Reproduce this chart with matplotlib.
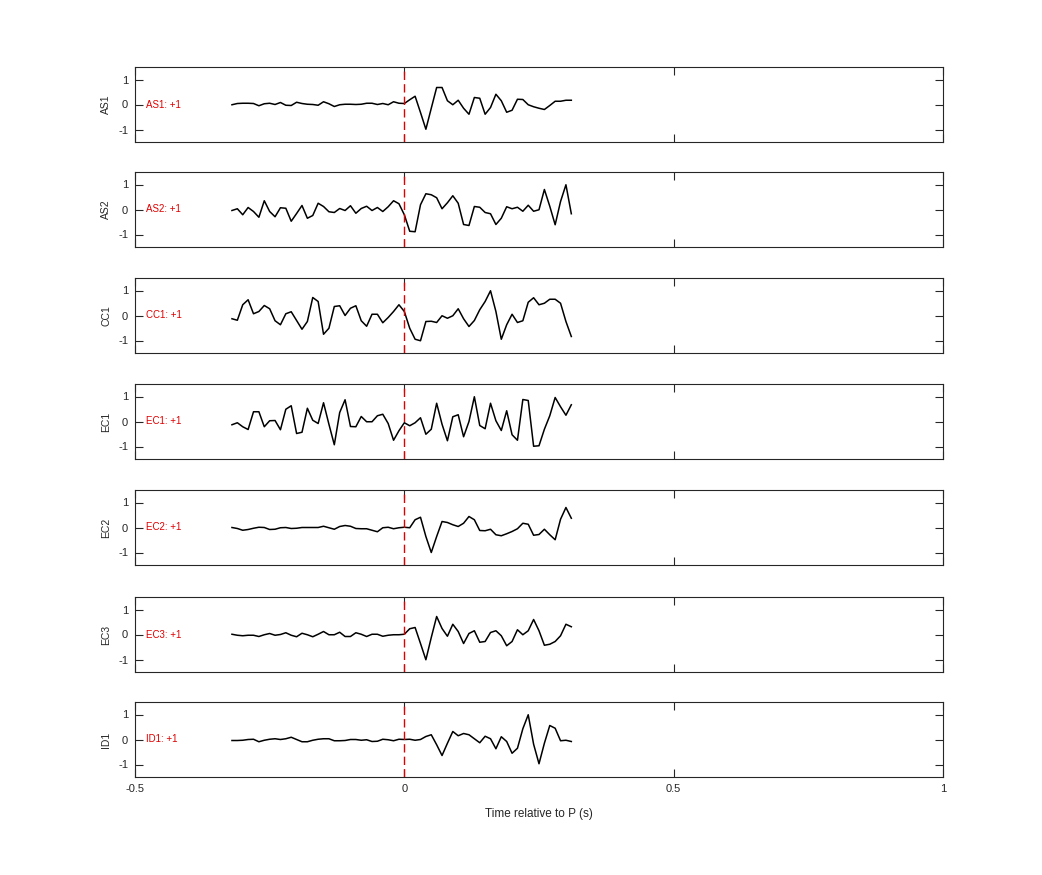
import matplotlib
matplotlib.use("Agg")
import matplotlib.pyplot as plt
import numpy as np

plt.rcParams['font.family'] = ['Liberation Sans', 'DejaVu Sans']
plt.rcParams['axes.unicode_minus'] = False

# time axis: 100 Hz samples around the P arrival
t = np.round(np.arange(-0.32, 0.315, 0.01), 2)

stations = ["AS1", "AS2", "CC1", "EC1", "EC2", "EC3", "ID1"]
polarity = ["+1", "+1", "+1", "+1", "+1", "+1", "+1"]

as1 = [-0.01, 0.04, 0.05, 0.05, 0.04, -0.05, 0.03, 0.05, 0, 0.08, -0.03, -0.04, 0.09, 0.04, 0.01, 0,
       -0.03, 0.11, 0.03, -0.08, -0.01, 0.01, 0.01, 0, 0.01, 0.05, 0.05, 0, 0.04, -0.01, 0.11, 0.05,
       0.04, 0.19, 0.33, -0.32, -0.99, -0.15, 0.68, 0.68, 0.15, -0.01, 0.17, -0.15, -0.39, 0.28, 0.25, -0.39,
       -0.12, 0.41, 0.15, -0.31, -0.23, 0.21, 0.2, -0.01, -0.09, -0.15, -0.2, -0.04, 0.13, 0.13, 0.17, 0.17]
as2 = [-0.04, 0.03, -0.21, 0.08, -0.08, -0.31, 0.35, -0.08, -0.29, 0.07, 0.05, -0.47, -0.16, 0.16, -0.35, -0.24,
       0.25, 0.12, -0.09, -0.12, 0.04, -0.04, 0.15, -0.15, 0.04, 0.13, -0.04, 0.08, -0.08, 0.11, 0.35, 0.23,
       -0.21, -0.87, -0.89, 0.19, 0.63, 0.59, 0.47, 0.03, 0.27, 0.55, 0.25, -0.6, -0.64, 0.12, 0.09, -0.12,
       -0.17, -0.6, -0.35, 0.11, 0.03, 0.09, -0.07, 0.17, -0.07, -0.01, 0.8, 0.13, -0.61, 0.32, 0.99, -0.17]
cc1 = [-0.13, -0.19, 0.43, 0.63, 0.07, 0.16, 0.4, 0.27, -0.21, -0.37, 0.07, 0.15, -0.2, -0.55, -0.24, 0.72,
       0.56, -0.75, -0.51, 0.36, 0.39, 0, 0.29, 0.39, -0.21, -0.43, 0.05, 0.05, -0.29, -0.08, 0.16, 0.43,
       0.16, -0.51, -0.95, -1.01, -0.24, -0.23, -0.28, -0.01, -0.11, -0.01, 0.27, -0.13, -0.44, -0.2, 0.23, 0.56,
       0.99, 0.16, -0.95, -0.37, 0.05, -0.28, -0.21, 0.53, 0.71, 0.43, 0.49, 0.65, 0.65, 0.49, -0.24, -0.84]
ec1 = [-0.13, -0.05, -0.21, -0.32, 0.39, 0.39, -0.21, 0.03, 0.04, -0.33, 0.49, 0.63, -0.48, -0.43, 0.53, 0.05,
       -0.08, 0.75, -0.11, -0.93, 0.36, 0.87, -0.2, -0.21, 0.2, -0.01, -0.01, 0.23, 0.29, -0.08, -0.75, -0.37,
       -0.05, -0.17, -0.05, 0.15, -0.51, -0.31, 0.73, -0.11, -0.77, 0.19, 0.27, -0.61, 0, 0.99, -0.16, -0.29,
       0.73, 0.03, -0.36, 0.43, -0.53, -0.75, 0.88, 0.84, -0.99, -0.97, -0.31, 0.23, 0.96, 0.59, 0.25, 0.67]
ec2 = [0, -0.04, -0.11, -0.08, -0.03, 0.01, 0, -0.08, -0.07, -0.01, 0, -0.04, -0.03, 0, 0, 0,
       0, 0.05, -0.01, -0.07, 0.04, 0.08, 0.05, -0.04, -0.05, -0.05, -0.11, -0.17, -0.01, 0.01, -0.05, -0.01,
       0.01, -0.01, 0.31, 0.41, -0.36, -1.0, -0.36, 0.24, 0.2, 0.11, 0.04, 0.17, 0.44, 0.31, -0.12, -0.13,
       -0.07, -0.29, -0.33, -0.25, -0.16, -0.05, 0.17, 0.13, -0.31, -0.28, -0.07, -0.29, -0.49, 0.33, 0.8, 0.37]
ec3 = [0.01, -0.03, -0.05, -0.03, -0.03, -0.08, -0.01, 0.04, -0.03, 0, 0.07, -0.03, -0.09, 0.05, -0.01, -0.09,
       0.01, 0.12, -0.01, -0.01, 0.09, -0.08, -0.08, 0.07, 0.01, -0.08, 0.01, 0.01, -0.07, -0.03, -0.01, -0.01,
       0.01, 0.23, 0.28, -0.36, -1.01, -0.12, 0.72, 0.24, -0.07, 0.41, 0.12, -0.36, 0.04, 0.15, -0.31, -0.28,
       0.08, 0.15, -0.05, -0.45, -0.28, 0.19, -0.01, 0.15, 0.6, 0.15, -0.43, -0.39, -0.28, -0.05, 0.41, 0.31]
id1 = [-0.04, -0.04, -0.03, 0, 0.01, -0.09, -0.03, 0.01, 0.03, 0, 0.03, 0.09, 0, -0.09, -0.09, -0.03,
       0.01, 0.03, 0.03, -0.05, -0.05, -0.04, 0, 0, -0.03, -0.01, -0.08, -0.07, 0.01, -0.01, -0.05, 0.01,
       0, 0.01, -0.03, 0, 0.12, 0.19, -0.21, -0.64, -0.15, 0.32, 0.15, 0.24, 0.19, 0.03, -0.13, 0.13,
       0.03, -0.37, 0.11, -0.08, -0.55, -0.35, 0.43, 0.99, -0.19, -0.97, -0.15, 0.56, 0.45, -0.05, -0.03, -0.08]
traces = [as1, as2, cc1, ec1, ec2, ec3, id1]

W, H = 1042, 875
fig = plt.figure(figsize=(W / 100, H / 100), dpi=100)

tops = [67, 172, 278, 384, 490, 597, 702]   # panel tops in pixels
left, width, ph = 135, 808, 75
dark = "#262626"

for k, (name, pol, y) in enumerate(zip(stations, polarity, traces)):
    top = tops[k]
    ax = fig.add_axes([left / W, 1 - (top + ph) / H, width / W, ph / H])
    ax.plot(t, y, color="black", lw=1.1)
    ax.axvline(0, color="#e00000", lw=1, linestyle=(0, (6, 3)), zorder=3)
    ax.set_xlim(-0.5, 1)
    ax.set_ylim(-1.5, 1.5)
    ax.set_yticks([-1, 0, 1])
    ax.set_xticks([-0.5, 0, 0.5, 1])
    ax.tick_params(direction="in", length=5.5, width=0.8, top=True, right=True,
                   labelsize=8, colors=dark, pad=5)
    for s in ax.spines.values():
        s.set_color(dark)
        s.set_linewidth(0.8)
    ax.set_ylabel(name, fontsize=7.5, color=dark, labelpad=5)
    ax.text(-0.48, 0, f"{name}: {pol}", color="#e00000", fontsize=7, va="center", ha="left")
    if k < len(stations) - 1:
        ax.set_xticklabels([])
    else:
        ax.set_xticklabels(["-0.5", "0", "0.5", "1"])
        ax.set_xlabel("Time relative to P (s)", fontsize=8.5, color=dark, labelpad=10)

fig.savefig("out.png", dpi=100)
